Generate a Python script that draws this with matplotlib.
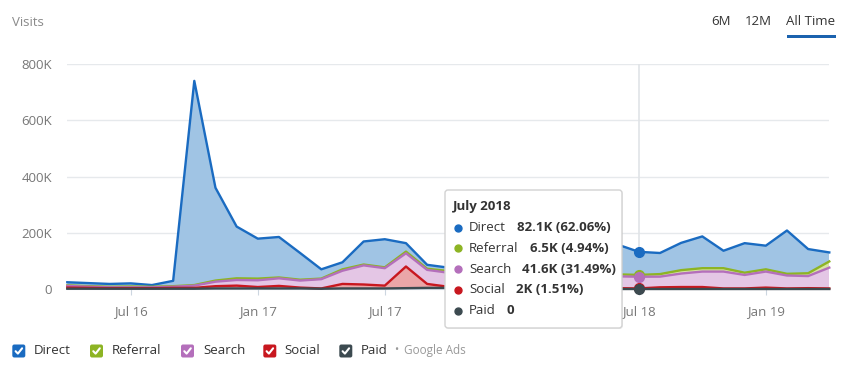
import numpy as np
import pandas as pd
import matplotlib
matplotlib.use("Agg")
import matplotlib.pyplot as plt
import matplotlib.transforms as mtransforms
from matplotlib.patches import FancyBboxPatch, Rectangle
from matplotlib.lines import Line2D

# monthly visits (thousands), Apr 2016 .. Apr 2019
months = pd.period_range("2016-04", "2019-04", freq="M")
direct = [11, 11, 10, 11, 6, 19, 726, 330, 184, 142, 144, 95, 33, 25, 82, 100, 30, 14, 12,
          31, 52, 67, 81, 93, 91, 107, 106, 82.1, 75, 97, 113, 62, 105, 84, 154, 86, 32]
referral = [2, 2, 2, 3, 2, 2, 2, 4, 6, 6, 3, 3, 2, 5, 3, 3, 6, 4, 6,
            5, 5, 6, 6, 7, 6, 7, 7, 6.5, 9, 12, 12, 12, 8, 8, 6, 10, 22]
search = [6, 4, 3, 3, 3, 4, 8, 16, 20, 24, 27, 25, 33, 47, 68, 62, 47, 50, 50,
          42, 45, 46, 48, 45, 44, 43, 42, 41.6, 38, 48, 55, 60, 48, 57, 46, 43, 74]
social = [4, 3, 2, 2, 2, 3, 3, 8, 10, 5, 9, 3, 1, 16, 14, 10, 77, 14, 4,
          4, 5, 4, 3, 4, 3, 3, 3, 2, 6, 7, 7, 2, 2, 5, 2, 3, 2]
paid = [1, 1, 1, 1, 1, 1, 1, 2, 2, 2, 2, 2, 1, 2, 2, 2, 3, 4, 4,
        3, 3, 2, 2, 1, 1, 0, 0, 0, 0, 0, 0, 0, 0, 0, 0, 0, 0]

series_names = ["Direct", "Referral", "Search", "Social", "Paid"]
tip_values = ["82.1K (62.06%)", "6.5K (4.94%)", "41.6K (31.49%)", "2K (1.51%)", "0"]
tip_title = "July 2018"
tick_months = ["Jul 16", "Jan 17", "Jul 17", "Jan 18", "Jul 18", "Jan 19"]
# "Jan 18" sits under the tooltip, so its label is not shown
tick_labels = ["Jul 16", "Jan 17", "Jul 17", "", "Jul 18", "Jan 19"]

line_cols = {"Direct": "#1a6bc1", "Referral": "#8db424", "Search": "#b46fbb",
             "Social": "#c8171f", "Paid": "#3c4a50"}
fill_cols = {"Direct": "#a0c4e4", "Referral": "#d8e6a4", "Search": "#e4c6e5",
             "Social": "#eaa6a8", "Paid": "#9ea7ab"}

W, H, DPI = 852, 369, 100
fig = plt.figure(figsize=(W / DPI, H / DPI), dpi=DPI)
plt.rcParams["font.family"] = ["Open Sans", "DejaVu Sans"]

# pixel transform, origin top-left
T = mtransforms.Affine2D().scale(1, -1).translate(0, H) + \
    mtransforms.Affine2D().scale(1.0 / DPI) + fig.dpi_scale_trans

ax = fig.add_axes([67.3 / W, 1 - 289 / H, (829.3 - 67.3) / W, (289 - 64) / H])
x = np.arange(len(months))

layers = [paid, social, search, referral, direct]
names_bottom_up = ["Paid", "Social", "Search", "Referral", "Direct"]
ax.stackplot(x, *layers, colors=[fill_cols[n] for n in names_bottom_up],
             linewidth=0, zorder=2)
cum = np.cumsum(np.vstack(layers), axis=0)
tops = dict(zip(names_bottom_up, cum))

hover = list(months.strftime("%b %Y")).index("Jul 2018")
ax.axvline(hover, color="#e0e4e7", lw=1.2, zorder=1.5)

for n in series_names:
    ax.plot(x, tops[n], color=line_cols[n], lw=1.7, zorder=3, clip_on=False,
            solid_joinstyle="round")
for n in series_names:
    ax.plot([hover], [tops[n][hover]], "o", color=line_cols[n], ms=7,
            zorder=4, clip_on=False)

ax.set_xlim(0, len(months) - 1)
ax.set_ylim(0, 800)
ax.set_yticks([0, 200, 400, 600, 800])
ax.set_yticklabels(["0", "200K", "400K", "600K", "800K"])
lab = list(months.strftime("%b %y"))
ax.set_xticks([lab.index(t) for t in tick_months])
ax.set_xticklabels(tick_labels)
ax.yaxis.grid(True, color="#e6e9ec", lw=1)
ax.set_axisbelow(True)
for s in ["left", "right", "top"]:
    ax.spines[s].set_visible(False)
ax.spines["bottom"].set_color("#ccd6e0")
ax.tick_params(axis="y", length=0, pad=11, labelsize=9.5, labelcolor="#777777")
ax.tick_params(axis="x", length=4.3, width=0.8, color="#ccd6e0", pad=7,
               labelsize=9.5, labelcolor="#777777")

# header
fig.text(12, 23, "Visits", transform=T, fontsize=9.5, color="#8a8a8a", va="center")
for txt, cx in [("6M", 720.5), ("12M", 758.3), ("All Time", 811)]:
    fig.text(cx, 21.5, txt, transform=T, fontsize=9.5, color="#333333",
             ha="center", va="center")
fig.add_artist(Rectangle((787, 35), 49, 2.5, transform=T, fc="#1b62ae", ec="none"))

# tooltip
fig.add_artist(FancyBboxPatch((446, 191), 177, 138, boxstyle="round,pad=0,rounding_size=3",
                              transform=T, fc="black", ec="none", alpha=0.06, zorder=9))
fig.add_artist(FancyBboxPatch((445, 190), 177, 138, boxstyle="round,pad=0,rounding_size=3",
                              transform=T, fc="white", ec="#d2d2d2", lw=1, zorder=10))
fig.text(453, 206.5, tip_title, transform=T, fontsize=9.5, fontweight="bold",
         color="#333333", va="center", zorder=11)
rend = fig.canvas.get_renderer()
for k, (n, v) in enumerate(zip(series_names, tip_values)):
    yy = 227.5 + k * 20.8
    fig.add_artist(Line2D([458.3], [yy], marker="o", ms=5, color=line_cols[n],
                          transform=T, zorder=11))
    t = fig.text(469, yy, n, transform=T, fontsize=9.5, color="#333333",
                 va="center", zorder=11)
    bb = t.get_window_extent(renderer=rend)
    x1 = T.inverted().transform((bb.x1, bb.y0))[0]
    fig.text(x1 + 11, yy, v, transform=T, fontsize=9.5, fontweight="bold",
             color="#333333", va="center", zorder=11)

# legend
for n, bx, tx in [("Direct", 12.3, 33.3), ("Referral", 90, 112), ("Search", 181, 203),
                  ("Social", 263.3, 284.7), ("Paid", 339.3, 361)]:
    fig.add_artist(FancyBboxPatch((bx, 344.5), 13, 13, boxstyle="round,pad=0,rounding_size=2",
                                  transform=T, fc=line_cols[n], ec="none"))
    fig.add_artist(Line2D([bx + 3.3, bx + 5.6, bx + 9.8], [351.2, 353.6, 348.3],
                          color="white", lw=1.5, transform=T, solid_capstyle="round"))
    t = fig.text(tx, 351, n, transform=T, fontsize=9.5, color="#333333", va="center")
fig.text(395.7, 350.5, "•", transform=T, fontsize=8, color="#999999", ha="center", va="center")
fig.text(404, 350.5, "Google Ads", transform=T, fontsize=8.5, color="#999999", va="center")

fig.savefig("out.png", dpi=DPI)
plt.close()
